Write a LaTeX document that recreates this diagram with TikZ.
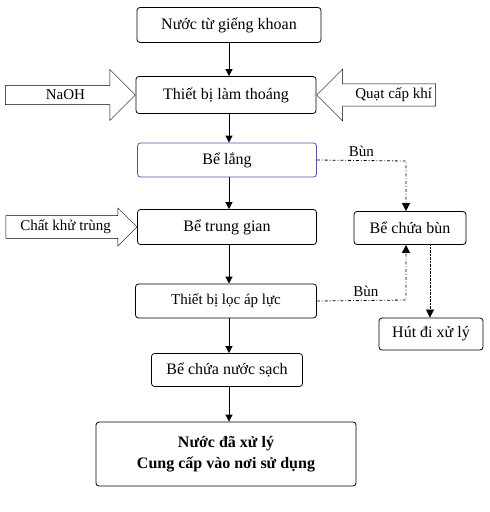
\documentclass[tikz,border=0pt]{standalone}
\usepackage{fontspec}
\setmainfont{Liberation Serif}
\usetikzlibrary{shapes.arrows,arrows.meta,positioning}
\tikzset{
block/.style = {draw, rounded corners=3pt, fill=white, thick, font=\fontsize{16}{19}\selectfont},
feed/.style = {draw, fill=white, single arrow, single arrow head extend=14pt, font=\fontsize{15}{18}\selectfont},
flow/.style = {-{Triangle[length=7pt,width=7pt]}, thick},
mud/.style = {-{Triangle[length=8pt,width=8pt]}, thick, dash dot},
}
\begin{document}
\begin{tikzpicture}[x=1pt,y=-1pt]
\useasboundingbox (0,0) rectangle (490,512);
\node [block, minimum width=184pt, minimum height=35pt] (well) at (229,25) {Nước từ giếng khoan};
\node [block, minimum width=180pt, minimum height=37pt] (aer) at (226,95) {Thiết bị làm thoáng};
\node [block, draw=blue!35!gray, minimum width=179pt, minimum height=34pt] (settle) at (227,160) {Bể lắng};
\node [block, minimum width=179pt, minimum height=35pt] (mid) at (227,227) {Bể trung gian};
\node [block, minimum width=181pt, minimum height=34pt, font=\fontsize{15}{18}\selectfont] (filter) at (226,301) {Thiết bị lọc áp lực};
\node [block, minimum width=151pt, minimum height=33pt] (clean) at (227,370) {Bể chứa nước sạch};
\node [block, minimum width=260pt, minimum height=64pt, align=center, font=\bfseries\fontsize{16}{21}\selectfont] (out) at (226,454) {Nước đã xử lý\\Cung cấp vào nơi sử dụng};
\node [block, minimum width=112pt, minimum height=33pt] (sludge) at (410,228) {Bể chứa bùn};
\node [block, minimum width=104pt, minimum height=32pt] (pump) at (431,334) {Hút đi xử lý};
% feed arrows
\node [feed, minimum height=130pt, minimum width=51pt, anchor=tip] (naoh) at (aer.west) {NaOH\hspace{26pt}};
\node [feed, minimum height=112pt, minimum width=52pt, anchor=tip, shape border rotate=180] (fan) at (aer.east) {\hspace{24pt}Quạt cấp khí};
\node [feed, minimum height=131pt, minimum width=38pt, single arrow head extend=7pt, anchor=tip] (dis) at (mid.west) {Chất khử trùng\hspace{14pt}};
% main line
\coordinate (axis) at (229,0);
\draw [flow] (axis |- well.south) -- (axis |- aer.north);
\draw [flow] (axis |- aer.south) -- (axis |- settle.north);
\draw [flow] (axis |- settle.south) -- (axis |- mid.north);
\draw [flow] (axis |- mid.south) -- (axis |- filter.north);
\draw [flow] (axis |- filter.south) -- (axis |- clean.north);
\draw [flow] (axis |- clean.south) -- (axis |- out.north);
% sludge
\coordinate (jtop) at (406,161);
\coordinate (jbot) at (406,300);
\coordinate (dtop) at (430,244);
\draw [mud] (settle.east) -- node [above, pos=0.5, font=\fontsize{15}{18}\selectfont] {Bùn} (jtop) -- (jtop |- sludge.north);
\draw [mud] (filter.east) -- node [above, pos=0.55, font=\fontsize{15}{18}\selectfont] {Bùn} (jbot) -- (jbot |- sludge.south);
\draw [-{Triangle[length=8pt,width=8pt]}, densely dotted] (dtop) -- (dtop |- pump.north);
\end{tikzpicture}
\end{document}
